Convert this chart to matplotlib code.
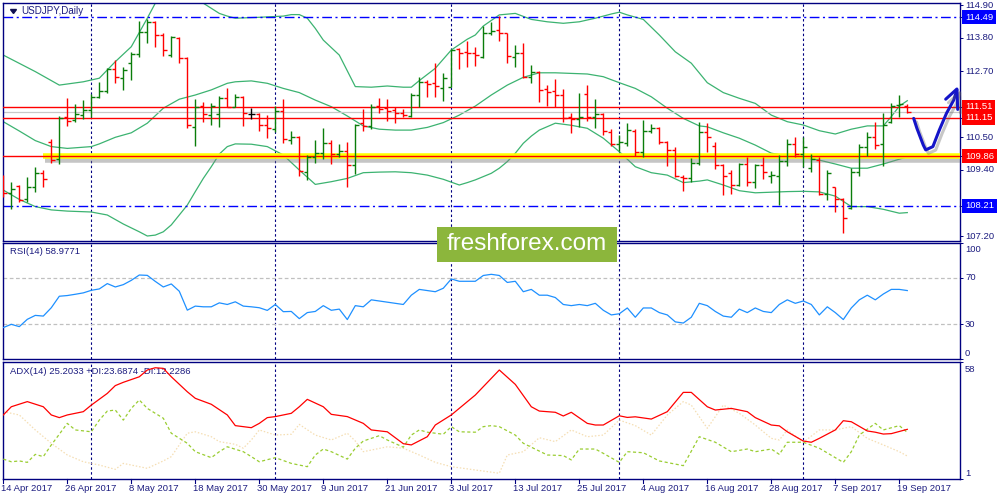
import numpy as np
import matplotlib
matplotlib.use("Agg")
import matplotlib.pyplot as plt
import matplotlib.patheffects as pe
import matplotlib.transforms as mtransforms
from matplotlib.patches import Rectangle

plt.rcParams['font.family'] = ['Liberation Sans', 'DejaVu Sans']

# ---------------- data ----------------
title_text = "USDJPY,Daily"
date_labels = ["14 Apr 2017", "26 Apr 2017", "8 May 2017", "18 May 2017", "30 May 2017",
               "9 Jun 2017", "21 Jun 2017", "3 Jul 2017", "13 Jul 2017", "25 Jul 2017",
               "4 Aug 2017", "16 Aug 2017", "28 Aug 2017", "7 Sep 2017", "19 Sep 2017"]
date_idx = [0, 8, 16, 24, 32, 40, 48, 56, 64, 72, 80, 88, 96, 104, 112]
month_idx = [11, 34, 56, 77, 100]

opens = [109.18, 108.62, 108.87, 108.42, 108.84, 109.31, 110.34, 109.76, 111.16, 111.07,
         111.23, 111.40, 111.84, 112.04, 112.76, 112.46, 112.96, 113.27, 114.01, 114.34,
         113.90, 113.23, 113.79, 113.12, 110.82, 111.53, 111.23, 111.27, 111.79, 111.51,
         111.84, 111.27, 111.27, 110.89, 110.76, 111.38, 110.40, 110.49, 109.34, 109.82,
         109.98, 110.31, 109.93, 110.04, 109.57, 110.96, 110.87, 111.53, 111.46, 111.40,
         111.31, 111.20, 111.90, 112.34, 112.31, 112.12, 112.16, 113.42, 113.34, 113.31,
         113.18, 113.96, 114.07, 113.96, 113.16, 113.29, 112.49, 112.68, 112.09, 112.04,
         111.90, 111.18, 111.09, 111.92, 111.16, 111.27, 110.68, 110.27, 110.31, 110.71,
         110.01, 110.71, 110.79, 110.34, 110.07, 109.18, 109.12, 109.62, 110.68, 110.20,
         109.57, 109.29, 108.90, 109.60, 109.01, 109.57, 109.20, 109.20, 109.71, 110.27,
         109.93, 109.46, 109.73, 108.60, 108.82, 108.42, 108.12, 109.34, 110.18, 110.51,
         110.27, 111.01, 111.57, 111.53]
highs = [109.23, 109.01, 108.90, 109.18, 109.49, 109.40, 110.45, 111.20, 111.79, 111.60,
         111.73, 111.93, 112.34, 112.79, 113.07, 112.82, 113.34, 114.38, 114.42, 114.38,
         113.96, 113.87, 113.82, 113.16, 111.76, 111.68, 111.62, 111.87, 112.12, 111.93,
         111.87, 111.46, 111.31, 111.23, 111.53, 111.76, 110.71, 110.53, 109.90, 110.40,
         110.79, 110.40, 110.27, 110.34, 110.93, 111.42, 111.60, 111.79, 111.76, 111.49,
         111.42, 111.96, 112.49, 112.40, 112.98, 112.62, 113.42, 113.46, 113.71, 113.49,
         114.20, 114.34, 114.53, 113.98, 113.57, 113.62, 112.90, 112.71, 112.23, 112.42,
         112.09, 111.31, 111.96, 112.23, 111.76, 111.31, 110.76, 110.57, 110.98, 110.76,
         111.07, 110.93, 110.82, 110.38, 110.18, 109.23, 109.79, 111.01, 110.98, 110.34,
         109.60, 109.40, 109.64, 109.84, 109.60, 109.84, 109.38, 109.90, 110.42, 110.49,
         110.49, 109.93, 109.84, 109.40, 108.84, 108.46, 109.46, 110.27, 110.68, 111.01,
         111.31, 111.62, 111.90, 111.60]
lows = [108.51, 108.09, 108.34, 108.34, 108.68, 108.84, 109.64, 109.59, 110.87, 111.01,
        111.09, 111.16, 111.79, 111.98, 112.31, 112.07, 112.40, 113.18, 113.62, 113.51,
        113.20, 113.18, 112.96, 110.79, 110.21, 111.01, 110.90, 110.84, 111.49, 111.49,
        110.87, 111.09, 110.69, 110.48, 110.68, 110.31, 110.27, 109.20, 109.07, 109.62,
        109.76, 109.60, 109.82, 108.82, 109.27, 110.69, 110.76, 111.31, 111.04, 110.98,
        111.18, 111.18, 111.49, 111.82, 111.82, 111.71, 112.16, 112.76, 112.84, 112.87,
        113.12, 113.90, 113.71, 112.96, 112.84, 112.46, 112.31, 111.68, 111.53, 111.49,
        111.01, 110.62, 110.84, 111.04, 110.79, 110.57, 110.20, 110.04, 110.20, 109.87,
        109.82, 110.64, 110.27, 109.53, 109.16, 108.71, 109.01, 109.57, 110.01, 109.42,
        108.57, 108.60, 108.87, 108.87, 108.79, 109.09, 108.98, 108.23, 109.53, 109.84,
        109.51, 109.34, 108.57, 108.40, 108.01, 107.29, 108.09, 109.20, 109.87, 110.09,
        109.53, 110.98, 111.18, 111.31]
closes = [108.64, 108.76, 108.40, 108.84, 109.29, 109.09, 109.73, 111.12, 111.05, 111.27,
          111.40, 111.84, 112.04, 112.76, 112.49, 112.73, 113.27, 114.01, 114.34, 113.90,
          113.40, 113.82, 113.12, 110.89, 111.49, 111.27, 111.53, 111.79, 111.51, 111.84,
          111.31, 111.27, 110.89, 110.79, 111.38, 110.42, 110.49, 109.38, 109.84, 109.98,
          110.31, 109.93, 110.04, 109.57, 110.90, 110.87, 111.49, 111.42, 111.38, 111.31,
          111.23, 111.90, 112.34, 112.27, 112.20, 112.46, 113.40, 113.29, 113.29, 113.23,
          113.96, 114.04, 113.96, 113.20, 113.29, 112.51, 112.68, 112.07, 112.01, 111.90,
          111.12, 111.09, 111.16, 111.16, 111.27, 110.71, 110.27, 110.34, 110.73, 110.01,
          110.71, 110.79, 110.34, 110.07, 109.20, 109.12, 109.62, 110.68, 110.51, 109.57,
          109.20, 108.90, 109.60, 109.01, 109.57, 109.34, 109.23, 109.71, 110.27, 109.93,
          110.18, 109.76, 108.60, 109.29, 108.42, 107.79, 109.34, 110.18, 110.51, 110.23,
          110.90, 111.53, 111.60, 111.34]

bb_up_idx = [0, 4, 7, 10, 12, 14, 16, 18, 19, 20, 22, 24, 25, 27, 28, 29, 32, 35, 36, 37,
             38, 39, 40, 42, 44, 46, 48, 50, 51, 52, 54, 56, 58, 59, 60, 62, 64, 66, 68, 70,
             72, 74, 76, 77, 78, 80, 82, 84, 86, 88, 90, 92, 94, 96, 98, 100, 102, 104, 106,
             108, 110, 111, 112, 113]
bb_up = [113.23, 112.68, 112.23, 112.34, 112.46, 113.01, 113.51, 114.46, 114.96, 115.40,
         115.60, 115.29, 114.96, 114.62, 114.53, 114.46, 114.49, 114.53, 114.58, 114.58,
         114.46, 114.12, 113.73, 113.23, 112.18, 112.16, 112.20, 112.16, 112.16, 112.38,
         112.79, 113.40, 113.76, 113.90, 114.20, 114.57, 114.62, 114.42, 114.34, 114.29,
         114.34, 114.46, 114.60, 114.66, 114.57, 114.42, 113.90, 113.34, 112.96, 112.31,
         111.98, 111.79, 111.62, 111.23, 111.01, 110.90, 110.71, 110.60, 110.76, 110.87,
         110.87, 111.18, 111.53, 111.71]
bb_mid_idx = [0, 2, 4, 6, 8, 10, 11, 12, 14, 16, 18, 20, 22, 24, 26, 28, 29, 31, 33, 35,
              37, 39, 41, 43, 45, 47, 49, 51, 53, 55, 57, 58, 59, 61, 63, 65, 67, 69, 71, 73,
              75, 77, 79, 81, 83, 85, 87, 88, 90, 92, 94, 96, 98, 100, 102, 104, 106, 108,
              110, 112, 113]
bb_mid = [111.01, 110.70, 110.38, 110.18, 110.12, 110.16, 110.18, 110.27, 110.49, 110.64,
          110.96, 111.46, 111.76, 111.90, 112.07, 112.29, 112.34, 112.37, 112.29, 112.12,
          111.98, 111.73, 111.51, 111.20, 110.87, 110.76, 110.73, 110.73, 110.82, 110.98,
          111.23, 111.38, 111.53, 111.90, 112.23, 112.49, 112.64, 112.64, 112.62, 112.60,
          112.51, 112.31, 112.12, 111.84, 111.46, 111.12, 110.87, 110.84, 110.64, 110.46,
          110.23, 109.96, 109.87, 109.82, 109.73, 109.60, 109.46, 109.46, 109.60, 109.76,
          109.84]
bb_low_idx = [0, 2, 4, 6, 8, 11, 13, 15, 17, 18, 19, 20, 21, 22, 23, 24, 25, 26, 27, 28,
              29, 31, 33, 35, 37, 39, 41, 43, 45, 47, 49, 51, 53, 55, 57, 58, 59, 61, 62, 63,
              64, 65, 66, 67, 69, 71, 73, 75, 77, 79, 81, 83, 85, 87, 88, 90, 92, 94, 96, 98,
              100, 102, 104, 106, 108, 110, 112, 113]
bb_low = [108.73, 108.42, 108.18, 108.07, 108.03, 108.00, 107.90, 107.60, 107.34, 107.20,
          107.23, 107.34, 107.57, 107.90, 108.23, 108.68, 109.12, 109.51, 109.93, 110.18,
          110.27, 110.26, 110.18, 109.90, 109.40, 108.92, 109.01, 109.12, 109.31, 109.33,
          109.34, 109.31, 109.23, 109.09, 108.90, 108.98, 109.07, 109.29, 109.46, 109.68,
          109.96, 110.29, 110.53, 110.73, 110.96, 110.89, 110.79, 110.46, 110.01, 109.51,
          109.31, 109.23, 108.98, 109.03, 109.07, 108.90, 108.71, 108.64, 108.66, 108.68,
          108.69, 108.67, 108.53, 108.18, 108.18, 108.09, 107.96, 107.98]

rsi = [27.1, 29.9, 27.9, 34.2, 37.6, 37.0, 44.2, 54.1, 54.7, 55.8, 57.0, 59.2, 60.4, 65.0,
       62.1, 64.1, 67.8, 72.4, 72.1, 66.9, 62.1, 64.7, 58.4, 42.1, 45.6, 45.0, 45.0, 48.4,
       47.0, 49.3, 45.6, 45.0, 44.2, 41.9, 47.0, 40.8, 41.0, 34.8, 40, 41, 46, 42, 43, 34,
       46, 45, 51, 50, 49, 48, 47, 55, 60, 59, 58, 61, 69, 67, 67, 67, 72, 73, 72, 66, 67,
       58, 60, 55, 55, 53, 47, 46, 47, 46, 48, 42, 38, 39, 44, 36, 44, 44, 40, 38, 32, 31,
       36, 48, 46, 41, 37, 36, 43, 40, 44, 41, 40, 47, 51, 48, 50, 47, 38, 45, 40, 34, 44,
       51, 55, 51, 56, 60, 60, 59]

adx_idx = [0, 1, 3, 5, 6, 7, 8, 10, 11, 13, 14, 15, 17, 18, 19, 20, 21, 23, 24, 26, 28, 29,
           31, 32, 33, 34, 36, 37, 38, 40, 41, 43, 45, 46, 48, 50, 51, 53, 54, 56, 59, 62,
           64, 66, 67, 69, 70, 71, 73, 74, 75, 77, 78, 79, 81, 83, 85, 86, 88, 89, 91, 93,
           94, 96, 97, 98, 100, 101, 102, 104, 105, 106, 108, 109, 110, 111, 113]
adx = [32.2, 36.2, 38.7, 36.2, 32.2, 30.9, 32.2, 33.8, 37.0, 42.7, 46.5, 48.1, 50.8, 54.1,
       55.2, 54.9, 50.8, 43.5, 40.3, 37.4, 32.2, 27.0, 26.0, 28.1, 30.9, 31.4, 33.0, 36.2,
       39.8, 36.2, 32.5, 31.4, 28.1, 24.9, 24.0, 18.2, 17.6, 21.6, 27.3, 32.2, 41.9, 54.1,
       47.1, 36.2, 34.1, 33.5, 31.7, 33.5, 28.1, 27.3, 27.3, 31.8, 31.0, 31.3, 30.2, 33.8,
       43.2, 43.2, 36.2, 34.6, 35.4, 33.8, 30.9, 27.3, 26.9, 24.0, 19.5, 18.9, 20.8, 24.9,
       29.4, 28.9, 24.4, 23.8, 22.9, 23.1, 25.2]
pdi_idx = [0, 1, 2, 3, 4, 5, 6, 7, 8, 9, 11, 12, 13, 14, 15, 16, 17, 18, 20, 21, 23, 24,
           26, 27, 28, 30, 31, 32, 34, 36, 38, 39, 40, 41, 43, 44, 45, 47, 48, 50, 51, 52,
           53, 55, 56, 57, 59, 60, 61, 62, 64, 65, 68, 70, 71, 72, 74, 75, 77, 78, 80, 82,
           85, 87, 89, 91, 93, 94, 96, 97, 98, 100, 102, 105, 106, 107, 109, 110, 112, 113]
pdi = [10.7, 9.4, 9.8, 9.1, 13.0, 11.9, 17.6, 22.8, 28.1, 24.9, 24.0, 29.7, 34.1, 34.6,
       29.7, 35.4, 39.5, 35.4, 30.6, 23.3, 18.4, 14.3, 11.4, 14.3, 16.7, 14.3, 11.9, 9.4,
       11.4, 8.6, 7.0, 12.7, 15.6, 14.3, 10.7, 16.0, 19.5, 22.1, 20.0, 16.5, 22.4, 24.9,
       23.8, 22.8, 26.5, 24.0, 23.8, 26.5, 27.0, 26.5, 22.4, 18.4, 12.7, 12.4, 10.3, 15.6,
       15.6, 13.5, 9.1, 14.3, 13.8, 9.8, 7.5, 21.6, 18.9, 14.3, 15.6, 14.3, 15.6, 13.0,
       18.9, 18.9, 16.0, 9.1, 14.3, 22.4, 28.1, 24.9, 27.0, 23.7]
mdi_idx = [0, 2, 4, 6, 8, 10, 12, 14, 15, 17, 18, 20, 21, 23, 24, 26, 27, 29, 30, 31, 32,
           34, 36, 37, 39, 41, 43, 44, 45, 48, 50, 52, 54, 56, 59, 62, 63, 65, 67, 69, 71,
           73, 75, 77, 79, 81, 83, 85, 86, 88, 90, 92, 94, 96, 97, 98, 100, 102, 104, 106,
           108, 110, 112, 113]
mdi = [33.8, 32.2, 24.9, 18.4, 12.7, 9.4, 7.8, 5.7, 8.6, 7.0, 6.2, 9.8, 11.9, 23.3, 24.0,
       21.6, 19.2, 17.9, 16.0, 20.0, 24.9, 22.4, 22.8, 27.6, 22.4, 20.0, 23.3, 19.5, 14.3,
       16.7, 16.0, 12.7, 9.1, 7.0, 5.4, 3.8, 12.7, 14.3, 21.1, 19.2, 24.9, 21.6, 22.4, 29.7,
       27.0, 22.4, 32.2, 38.7, 37.0, 25.7, 37.0, 33.0, 27.3, 20.8, 20.0, 24.9, 18.9, 24.9,
       24.9, 26.5, 20.8, 17.6, 14.3, 12.2]

level_blue = [114.49, 108.21]
level_red = [111.51, 111.15]
level_support = 109.86
price_ticks = [114.90, 113.80, 112.70, 110.50, 109.40, 107.20]
rsi_levels = [70, 30]
rsi_text = "RSI(14) 58.9771"
adx_text = "ADX(14) 25.2033 +DI:23.6874 -DI:12.2286"
watermark = "freshforex.com"

# hand-drawn forecast arrow (bar index, price)
arrow_x = [113.8, 114.2, 114.6, 115.0, 115.3, 116.2, 117.0, 117.9, 118.8, 119.2]
arrow_y = [111.12, 110.79, 110.51, 110.23, 110.07, 110.18, 110.73, 111.29, 111.73, 112.07]
head_x = [117.8, 119.2, 119.3]
head_y = [111.76, 112.10, 111.42]

# ---------------- style ----------------
NAVY = '#000080'
TXT = '#1c1c80'
FS = 6.8
W, H = 1000, 500

fig = plt.figure(figsize=(10, 5), dpi=100)
fig.patch.set_facecolor('white')

def px_axes(x0, y0, x1, y1):
    return fig.add_axes([x0 / W, 1 - y1 / H, (x1 - x0) / W, (y1 - y0) / H])

ax = px_axes(3, 3, 960, 241)
ax_rsi = px_axes(3, 243, 960, 359)
ax_adx = px_axes(3, 362, 960, 479)

XL = ((3 - 3.3) / 8, (960 - 3.3) / 8)
for a in (ax, ax_rsi, ax_adx):
    a.set_xlim(*XL)
    a.set_facecolor('white')
    for s in a.spines.values():
        s.set_color(NAVY)
        s.set_linewidth(1.0)
    a.tick_params(axis='x', which='both', bottom=False, labelbottom=False)
    a.yaxis.set_ticks_position('right')
    a.tick_params(axis='y', direction='out', length=2.5, width=0.7, color=NAVY,
                  labelright=False, labelleft=False)
    for m in month_idx:
        a.axvline(m, color=NAVY, lw=0.8, ls=(0, (2.2, 2.2)), zorder=1)

# ---- main price panel ----
ax.set_ylim(114.90 - 236 / 30, 114.90 + 2 / 30)
ax.set_yticks(price_ticks + level_blue + level_red + [level_support])

ax.plot(bb_up_idx, bb_up, color='#3cb371', lw=0.9, zorder=2)
ax.plot(bb_mid_idx, bb_mid, color='#3cb371', lw=0.9, zorder=2)
ax.plot(bb_low_idx, bb_low, color='#3cb371', lw=0.9, zorder=2)

for lv in level_blue:
    ax.axhline(lv, color='#0000ff', lw=1.0, ls=(0, (7, 2.5, 1.5, 2.5)), zorder=2)
ax.axhline(closes[-1], color='#c8c8c8', lw=0.9, zorder=2)
for lv in level_red:
    ax.axhline(lv, color='#ff0000', lw=1.0, zorder=3)
ax.plot([5, XL[1]], [level_support, level_support], color='#ffff00', lw=4.0,
        solid_capstyle='butt', zorder=3,
        path_effects=[pe.SimpleLineShadow(offset=(1.5, -3), shadow_color='#808080', alpha=0.45),
                      pe.Normal()])
ax.axhline(level_support, color='#ff0000', lw=1.0, zorder=4)

idx = np.arange(len(closes))
for i in idx:
    o, h, l, c = opens[i], highs[i], lows[i], closes[i]
    col = '#0a7d0a' if c > o else ('#ff0000' if c < o else '#000000')
    ax.plot([i, i], [l, h], color=col, lw=1.0, solid_capstyle='butt', zorder=5)
    ax.plot([i - 0.42, i], [o, o], color=col, lw=1.0, solid_capstyle='butt', zorder=5)
    ax.plot([i, i + 0.42], [c, c], color=col, lw=1.0, solid_capstyle='butt', zorder=5)

shadow = [pe.SimpleLineShadow(offset=(2, -2.5), shadow_color='#606060', alpha=0.35), pe.Normal()]
ax.plot(arrow_x, arrow_y, color='#1414c8', lw=2.2, solid_capstyle='round',
        solid_joinstyle='round', zorder=6, clip_on=False, path_effects=shadow)
ax.plot(head_x, head_y, color='#1414c8', lw=2.2, solid_capstyle='round',
        solid_joinstyle='round', zorder=6, clip_on=False, path_effects=shadow)

# title
ax.text(18 / 957, 1 - 8 / 238, title_text, transform=ax.transAxes, fontsize=FS + 0.3,
        color=TXT, ha='left', va='center', zorder=7)
ax.fill([7.5 / 957, 13.5 / 957, 10.5 / 957], [1 - 6.5 / 238, 1 - 6.5 / 238, 1 - 10.5 / 238],
        transform=ax.transAxes, color='#101050', zorder=7)

tr = mtransforms.blended_transform_factory(ax.transAxes, ax.transData)
XT = (965 - 3) / 957
for v in price_ticks:
    ax.text(XT, v, f"{v:.2f}", transform=tr, fontsize=FS, color=TXT, ha='left',
            va='center', clip_on=False)
for v in level_blue:
    ax.text(XT, v, f"{v:.2f}", transform=tr, fontsize=FS, color='white', ha='left',
            va='center', clip_on=False,
            bbox=dict(boxstyle='square,pad=0.28', fc='#0000ff', ec='none'))
for v in level_red + [level_support]:
    ax.text(XT, v, f"{v:.2f}", transform=tr, fontsize=FS, color='white', ha='left',
            va='center', clip_on=False,
            bbox=dict(boxstyle='square,pad=0.28', fc='#ff0000', ec='none'))

# ---- RSI panel ----
ax_rsi.set_ylim(0, 100)
ax_rsi.set_yticks([100, 70, 30, 0])
for lv in rsi_levels:
    ax_rsi.axhline(lv, color='#c0c0c0', lw=0.9, ls=(0, (3, 2)), zorder=1)
ax_rsi.plot(idx, rsi, color='#1e90ff', lw=0.9, zorder=3)
ax_rsi.text(7 / 957, 1 - 8 / 116, rsi_text, transform=ax_rsi.transAxes, fontsize=FS,
            color=TXT, ha='left', va='center')
trr = ax_rsi.transAxes
for lab, yy in [("100", (359 - 249) / 116), ("70", 0.70), ("30", 0.30), ("0", (359 - 353) / 116)]:
    ax_rsi.text(XT, yy, lab, transform=trr, fontsize=FS, color=TXT, ha='left',
                va='center', clip_on=False)

# ---- ADX panel ----
ax_adx.set_ylim(1, 58)
ax_adx.set_yticks([58, 1])
ax_adx.plot(mdi_idx, mdi, color='#f5deb3', lw=0.9, ls=(0, (1.2, 1.5)), zorder=2)
ax_adx.plot(pdi_idx, pdi, color='#9acd32', lw=0.9, ls=(0, (2.5, 2)), zorder=3)
ax_adx.plot(adx_idx, adx, color='#ff0000', lw=0.9, zorder=4)
ax_adx.text(7 / 957, 1 - 9 / 117, adx_text, transform=ax_adx.transAxes, fontsize=FS,
            color=TXT, ha='left', va='center')
tra = ax_adx.transAxes
ax_adx.text(XT, (479 - 369) / 117, "58", transform=tra, fontsize=FS, color=TXT,
            ha='left', va='center', clip_on=False)
ax_adx.text(XT, (479 - 473) / 117, "1", transform=tra, fontsize=FS, color=TXT,
            ha='left', va='center', clip_on=False)

trd = mtransforms.blended_transform_factory(ax_adx.transData, ax_adx.transAxes)
for i, lab in zip(date_idx, date_labels):
    ax_adx.plot([i, i], [0, -4 / 117], transform=trd, color=NAVY, lw=0.8, clip_on=False)
    ax_adx.text(i - 0.25, -9.5 / 117, lab, transform=trd, fontsize=FS, color=TXT,
                ha='left', va='center', clip_on=False)

# ---- watermark ----
fig.add_artist(Rectangle((437 / W, 1 - 262 / H), (617 - 437) / W, (262 - 227) / H,
                         transform=fig.transFigure, fc='#8cb63c', ec='none', zorder=10))
fig.text(527 / W, 1 - 244 / H, watermark, fontsize=17.5, color='white', ha='center',
         va='center', zorder=11)

fig.savefig('out.png', dpi=100, facecolor='white')
